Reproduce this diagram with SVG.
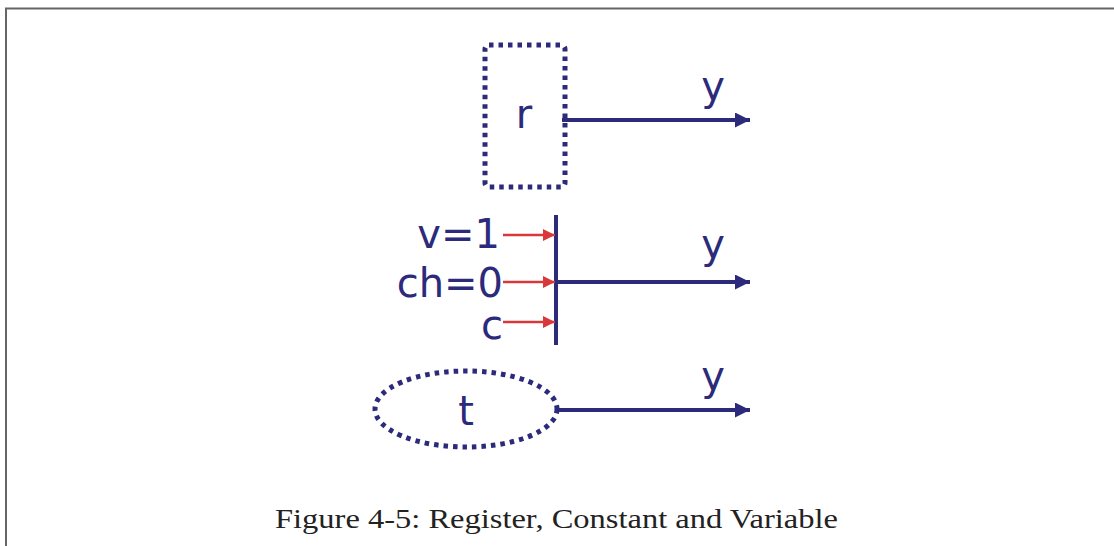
<svg xmlns="http://www.w3.org/2000/svg" width="1114" height="546" viewBox="0 0 1114 546">
<style>
.dot{fill:none;stroke:#2c2a7a;stroke-width:5;stroke-dasharray:4.5 5}
.lbl{font-family:"DejaVu Sans",Verdana,sans-serif;font-size:40px;fill:#2c2a7a}
.wire{stroke:#2c2a7a;stroke-width:4;fill:none}
.red{stroke:#d8383a;stroke-width:2.5;fill:none}
.cap{font-family:"Liberation Serif",serif;font-size:28px;fill:#222}
</style>
<defs>
<marker id="ah" viewBox="0 0 10 10" refX="10" refY="5" markerWidth="19" markerHeight="15" markerUnits="userSpaceOnUse" orient="auto"><path d="M0 0L10 5L0 10z" fill="#2c2a7a"/></marker>
<marker id="ahr" viewBox="0 0 10 10" refX="10" refY="5" markerWidth="15" markerHeight="12" markerUnits="userSpaceOnUse" orient="auto"><path d="M0 0L10 5L0 10z" fill="#d8383a"/></marker>
</defs>
<rect width="1114" height="546" fill="#fff"/>
<g id="frame" stroke="#666" stroke-width="2" fill="none">
<path d="M6 546V8.5H1114"/>
</g>
<g id="register">
<rect class="dot" x="485" y="45" width="80" height="142" rx="4"/>
<text class="lbl" x="524" y="128" text-anchor="middle">r</text>
</g>
<g id="constant">
<line x1="556" y1="215" x2="556" y2="345" stroke="#2c2a7a" stroke-width="4"/>
<text class="lbl" x="500" y="248" text-anchor="end">v=1</text>
<text class="lbl" x="503" y="297" text-anchor="end">ch=0</text>
<text class="lbl" x="503" y="339" text-anchor="end">c</text>
</g>
<g id="variable">
<ellipse class="dot" cx="466" cy="409" rx="91" ry="38"/>
<text class="lbl" x="466" y="425" text-anchor="middle">t</text>
</g>
<g id="connectors">
<line class="wire" x1="562" y1="120" x2="750" y2="120" marker-end="url(#ah)"/>
<line class="wire" x1="556" y1="282" x2="750" y2="282" marker-end="url(#ah)"/>
<line class="wire" x1="558" y1="410" x2="750" y2="410" marker-end="url(#ah)"/>
<line class="red" x1="503" y1="235" x2="555" y2="235" marker-end="url(#ahr)"/>
<line class="red" x1="503" y1="282" x2="555" y2="282" marker-end="url(#ahr)"/>
<line class="red" x1="503" y1="322" x2="555" y2="322" marker-end="url(#ahr)"/>
<text class="lbl" x="713" y="100" text-anchor="middle">y</text>
<text class="lbl" x="713" y="258" text-anchor="middle">y</text>
<text class="lbl" x="713" y="390" text-anchor="middle">y</text>
</g>
<text class="cap" x="275" y="528" textLength="563" lengthAdjust="spacingAndGlyphs">Figure 4-5: Register, Constant and Variable</text>
</svg>
